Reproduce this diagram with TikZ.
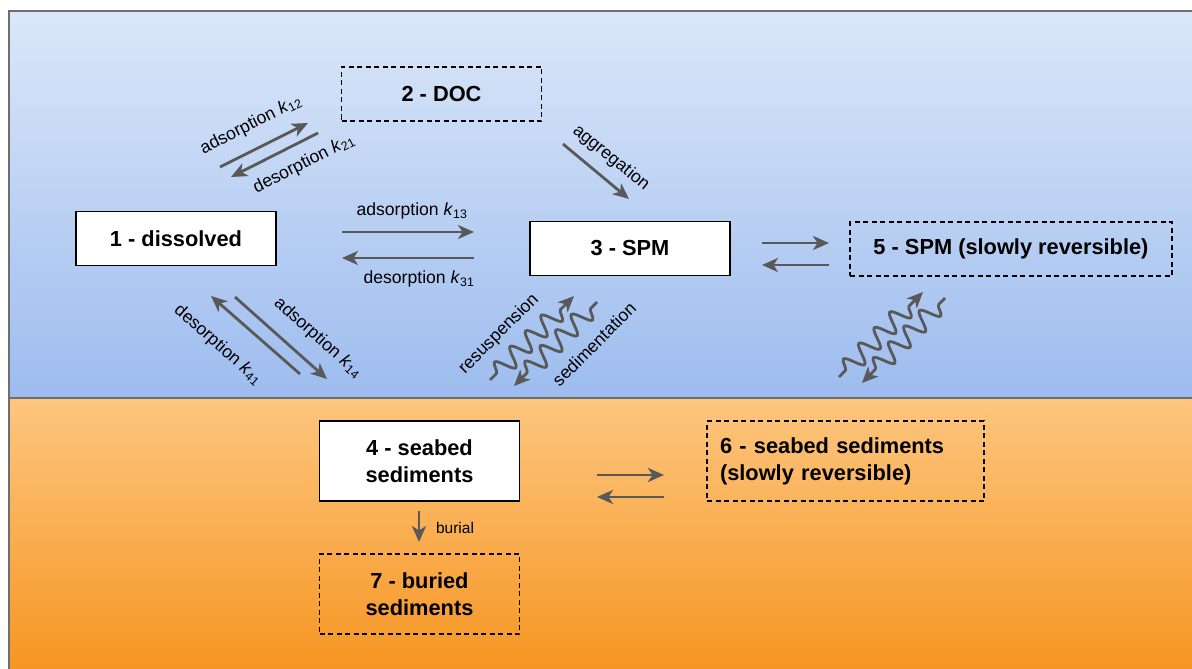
\documentclass[tikz,border=0pt]{standalone}
\usepackage{fontspec}
\setmainfont{Liberation Sans}
\usepackage{tikz}
\usetikzlibrary{arrows.meta}
\usetikzlibrary{decorations.pathmorphing}
\definecolor{watertop}{HTML}{DBE7F9}
\definecolor{waterbot}{HTML}{9DBCEE}
\definecolor{sedtop}{HTML}{FDC67F}
\definecolor{sedbot}{HTML}{F5921B}
\definecolor{arrowgray}{HTML}{595959}
\definecolor{framegray}{HTML}{6E6E6E}
\tikzset{
 box/.style={draw=black, fill=white, line width=1.2pt, minimum width=200, minimum height=54,
  font=\fontsize{21.8}{27}\selectfont\bfseries, align=center},
 dbox/.style={box, fill=none, dash pattern=on 5pt off 3.5pt},
 flow/.style={draw=arrowgray, line width=2.8pt, -{Stealth[length=16pt,width=14pt,inset=4.5pt]}},
 wave/.style={flow, decorate, decoration={snake, segment length=22pt, amplitude=9.5pt,
  pre length=9pt, post length=13pt}},
 lbl/.style={font=\fontsize{17.6}{20}\selectfont, inner sep=0pt},
 layer/.style={draw=framegray, line width=1.5pt}
}
\newcommand{\kk}[1]{\textit{k}\textsubscript{#1}}

\begin{document}
\begin{tikzpicture}[x=1pt, y=-1pt]
\useasboundingbox (0,0) rectangle (1192,669);
\clip (0,0) rectangle (1192,669);
\fill[white] (0,0) rectangle (1192,669);
\draw[layer, top color=watertop, bottom color=waterbot] (9,11) rectangle (1210,398);
\draw[layer, top color=sedtop, bottom color=sedbot] (9,398) rectangle (1210,690);

\node[box] (dis) at (176,238.5) {1 - dissolved};
\node[dbox] (doc) at (441.5,94) {2 - DOC};
\node[box] (spm) at (630,248.5) {3 - SPM};
\node[dbox, minimum width=322] (spms) at (1011,249) {5 - SPM (slowly reversible)};
\node[box, minimum height=80] (sed) at (419.5,461) {4 - seabed\\sediments};
\node[dbox, minimum height=80, text width=251, inner xsep=13, align=left] (seds) at (845.5,461)
 {6 - seabed sediments\\(slowly reversible)};
\node[dbox, minimum height=80] (bur) at (419.5,594) {7 - buried\\sediments};

\foreach \n/\x/\y in {a12s/220/167, a12e/308/123, d21s/318/133, d21e/231/177,
 a13s/342/232, a13e/474/232, d31s/474/258, d31e/342/258, aggs/563/144, agge/629/199,
 a14s/235/297, a14e/327/379, d41s/300/374, d41e/211/296,
 ress/490/380, rese/574/296, sedis/597/302, sedie/514/386,
 f35s/762/243, f35e/829/243, f53s/829/265, f53e/762/265,
 r5s/839/377, r5e/923/292, s5s/945/298, s5e/862/383,
 f46s/597/475, f46e/664/475, f64s/664/497, f64e/597/497, burs/419/511, bure/419/542}
 \coordinate (\n) at (\x,\y);

\draw[flow] (a12s) -- (a12e);
\draw[flow] (d21s) -- (d21e);
\draw[flow] (a13s) -- (a13e);
\draw[flow] (d31s) -- (d31e);
\draw[flow] (aggs) -- (agge);
\draw[flow] (a14s) -- (a14e);
\draw[flow] (d41s) -- (d41e);
\draw[flow] (f35s) -- (f35e);
\draw[flow] (f53s) -- (f53e);
\draw[flow] (f46s) -- (f46e);
\draw[flow] (f64s) -- (f64e);
\draw[flow] (burs) -- (bure);
\draw[wave] (ress) -- (rese);
\draw[wave] (sedis) -- (sedie);
\draw[wave] (r5s) -- (r5e);
\draw[wave] (s5s) -- (s5e);

\node[lbl, rotate=27] (l12) at (251,125) {adsorption \kk{12}};
\node[lbl, rotate=27] (l21) at (304,164) {desorption \kk{21}};
\node[lbl] (l13) at (412,211) {adsorption \kk{13}};
\node[lbl] (l31) at (419,279) {desorption \kk{31}};
\node[lbl, rotate=-39] (lagg) at (611,158) {aggregation};
\node[lbl, rotate=-41.5] (l41) at (218,345) {desorption \kk{41}};
\node[lbl, rotate=-41.5] (l14) at (318,338) {adsorption \kk{14}};
\node[lbl, rotate=45] (lres) at (499,334) {resuspension};
\node[lbl, rotate=45] (lsed) at (594,344) {sedimentation};
\node[lbl, font=\fontsize{15.5}{18}\selectfont] (lbur) at (455,528) {burial};
\end{tikzpicture}
\end{document}
